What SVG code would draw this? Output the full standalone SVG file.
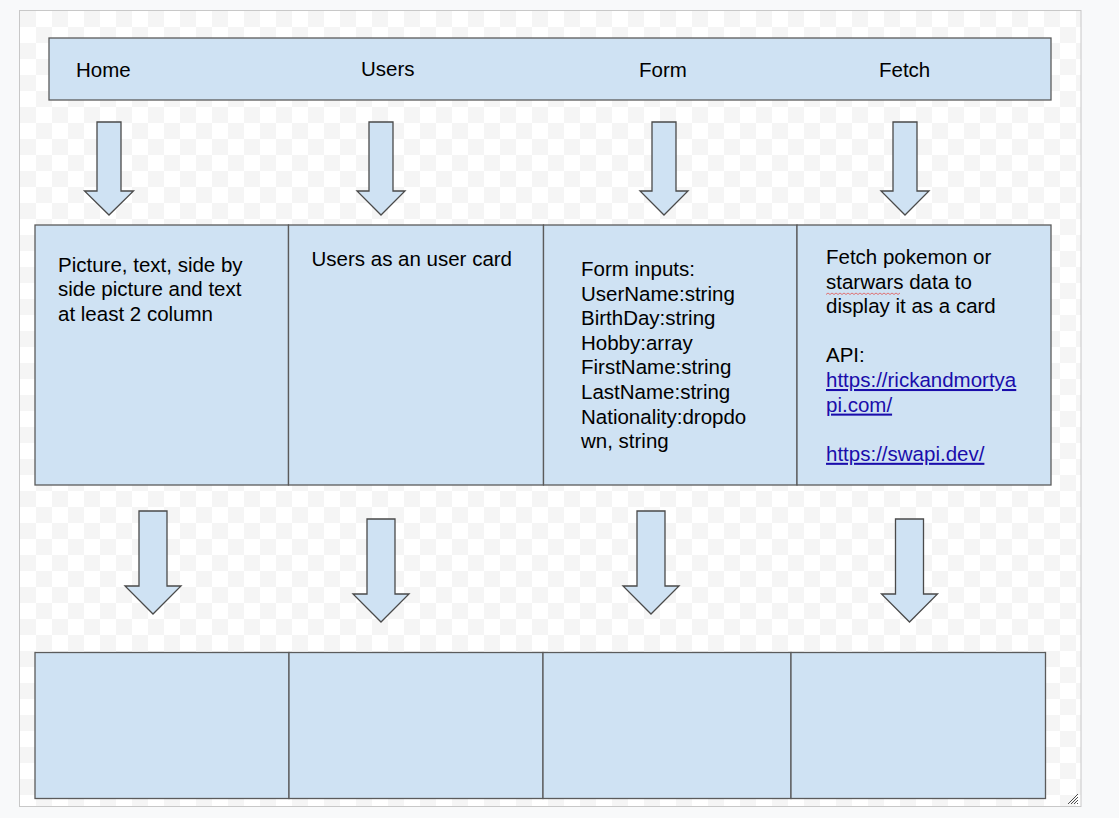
<svg xmlns="http://www.w3.org/2000/svg" width="1119" height="818" viewBox="0 0 1119 818">
<defs>
<pattern id="checker" x="20" y="11" width="32" height="32" patternUnits="userSpaceOnUse">
<rect width="32" height="32" fill="#ffffff"/>
<rect width="16" height="16" fill="#f5f5f5"/>
<rect x="16" y="16" width="16" height="16" fill="#f5f5f5"/>
</pattern>
</defs>
<style>
.box{fill:#cfe2f3;stroke:#5b5b5b;stroke-width:1.3}
.arrow{fill:#cfe2f3;stroke:#4a4a4a;stroke-width:1.3;stroke-linejoin:miter}
.t{font-family:"Liberation Sans",Arial,sans-serif;font-size:20.5px;fill:#000}
.link{fill:#1a0dab;text-decoration:underline}
</style>
<rect width="1119" height="818" fill="#f8f9fa"/>
<rect x="19.5" y="10.5" width="1061.5" height="796" fill="url(#checker)" stroke="#c8c8c8" stroke-width="1"/>
<g id="grip" stroke="#222" stroke-width="0.8">
<line x1="1068" y1="804" x2="1078" y2="794"/>
<line x1="1071" y1="804" x2="1078" y2="797"/>
<line x1="1074" y1="804" x2="1078" y2="800"/>
<line x1="1077" y1="804" x2="1078" y2="803"/>
</g>

<g id="nav">
<rect class="box" x="49" y="38" width="1002" height="62"/>
<text class="t" x="76" y="77">Home</text>
<text class="t" x="361" y="76">Users</text>
<text class="t" x="639" y="77">Form</text>
<text class="t" x="879" y="77">Fetch</text>
</g>

<g id="connectors">
<polygon class="arrow" points="97,122 121,122 121,191 133.5,191 109,215 84.5,191 97,191"/>
<polygon class="arrow" points="369,122 393,122 393,191 405,191 381,215 357,191 369,191"/>
<polygon class="arrow" points="652,122 676,122 676,191 688,191 664,215 640,191 652,191"/>
<polygon class="arrow" points="893,122 917,122 917,191 929,191 905,215 881,191 893,191"/>
<polygon class="arrow" points="139,511 167,511 167,586 181,586 153,614 125,586 139,586"/>
<polygon class="arrow" points="367,519 395,519 395,594 409,594 381,622 353,594 367,594"/>
<polygon class="arrow" points="637,511 665,511 665,586 679,586 651,614 623,586 637,586"/>
<polygon class="arrow" points="895.5,519 923.5,519 923.5,594 937.5,594 909.5,622 881.5,594 895.5,594"/>
</g>

<g id="home-content">
<rect class="box" x="35" y="225" width="253.5" height="260"/>
<text class="t" x="58" y="271.7">Picture, text, side by</text>
<text class="t" x="58" y="296.3">side picture and text</text>
<text class="t" x="58" y="321">at least 2 column</text>
</g>

<g id="users-content">
<rect class="box" x="288.5" y="225" width="255" height="260"/>
<text class="t" x="311.5" y="265.7">Users as an user card</text>
</g>

<g id="form-content">
<rect class="box" x="543.5" y="225" width="253.5" height="260"/>
<text class="t" x="581" y="276">Form inputs:</text>
<text class="t" x="581" y="300.6">UserName:string</text>
<text class="t" x="581" y="325.2">BirthDay:string</text>
<text class="t" x="581" y="349.8">Hobby:array</text>
<text class="t" x="581" y="374.4">FirstName:string</text>
<text class="t" x="581" y="399">LastName:string</text>
<text class="t" x="581" y="423.6">Nationality:dropdo</text>
<text class="t" x="581" y="448.2">wn, string</text>
</g>

<g id="fetch-content">
<rect class="box" x="797" y="225" width="254" height="260"/>
<text class="t" x="826" y="264">Fetch pokemon or</text>
<text class="t" x="826" y="288.6">starwars data to</text>
<path d="M826,294.5 l2,-1.5 l2,1.5 l2,-1.5 l2,1.5 l2,-1.5 l2,1.5 l2,-1.5 l2,1.5 l2,-1.5 l2,1.5 l2,-1.5 l2,1.5 l2,-1.5 l2,1.5 l2,-1.5 l2,1.5 l2,-1.5 l2,1.5 l2,-1.5 l2,1.5 l2,-1.5 l2,1.5 l2,-1.5 l2,1.5 l2,-1.5 l2,1.5 l2,-1.5 l2,1.5 l2,-1.5 l2,1.5 l2,-1.5 l2,1.5 l2,-1.5 l2,1.5 l2,-1.5 l2,1.5 l2,-1.5" fill="none" stroke="#e06666" stroke-width="0.9"/>
<text class="t" x="826" y="313.2">display it as a card</text>
<text class="t" x="826" y="362.4">API:</text>
<text class="t link" x="826" y="387">https://rickandmortya</text>
<text class="t link" x="826" y="411.6">pi.com/</text>
<text class="t link" x="826" y="460.8">https://swapi.dev/</text>
</g>

<g id="home-bottom"><rect class="box" x="35" y="652.5" width="254" height="146"/></g>
<g id="users-bottom"><rect class="box" x="289" y="652.5" width="254" height="146"/></g>
<g id="form-bottom"><rect class="box" x="543" y="652.5" width="248" height="146"/></g>
<g id="fetch-bottom"><rect class="box" x="791" y="652.5" width="254.5" height="146"/></g>
</svg>
